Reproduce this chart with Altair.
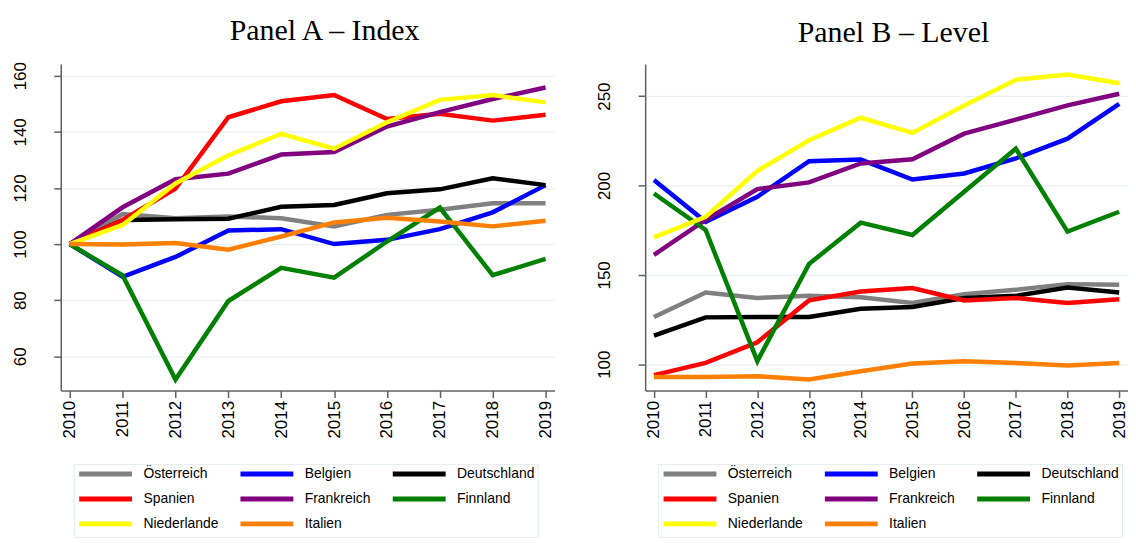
import altair as alt
import pandas as pd

years = [2010, 2011, 2012, 2013, 2014, 2015, 2016, 2017, 2018, 2019]
countries = ["Österreich", "Belgien", "Deutschland", "Spanien", "Frankreich",
             "Finnland", "Niederlande", "Italien"]
colors = ["#808080", "#0000ff", "#000000", "#ff0000", "#800080",
          "#008000", "#ffff00", "#ff8000"]

# Panel A – Index (2010 = 100)
idx_at = [100, 110.7, 109.2, 109.8, 109.2, 106.3, 110.4, 112.2, 114.5, 114.5]
idx_be = [100, 88.3, 95.4, 104.8, 105.3, 100.0, 101.5, 105.3, 111.3, 121.0]
idx_de = [100, 108.6, 108.8, 109.0, 113.3, 113.9, 118.1, 119.5, 123.4, 121.0]
idx_es = [100, 108.6, 119.8, 145.2, 150.9, 153.1, 144.6, 146.4, 144.0, 146.1]
idx_fr = [100, 113.1, 123.1, 125.1, 131.9, 132.8, 141.9, 147.0, 151.7, 155.8]
idx_fi = [100, 88.8, 51.7, 79.7, 91.5, 88.0, 100.9, 113.0, 88.9, 94.7]
idx_nl = [100, 106.8, 121.6, 131.6, 139.3, 134.0, 143.4, 151.4, 153.1, 150.5]
idx_it = [100, 99.8, 100.4, 98.0, 102.7, 107.7, 109.4, 108.0, 106.3, 108.3]

# Panel B – Level
lvl_at = [126.4, 140.1, 137.0, 138.3, 137.5, 134.2, 139.2, 141.6, 144.8, 144.4]
lvl_be = [203.0, 179.7, 193.7, 213.6, 214.5, 203.3, 206.7, 215.1, 226.2, 245.7]
lvl_de = [116.0, 126.2, 126.4, 126.4, 131.0, 132.0, 137.0, 138.3, 142.9, 140.1]
lvl_es = [93.9, 100.7, 112.3, 135.7, 140.7, 142.6, 135.7, 137.0, 134.2, 136.4]
lvl_fr = [161.2, 180.7, 198.0, 201.7, 212.3, 214.7, 229.0, 236.8, 244.8, 251.3]
lvl_fi = [195.5, 175.1, 101.7, 156.1, 179.2, 172.3, 196.5, 220.6, 174.2, 185.3]
lvl_nl = [171.0, 182.5, 208.2, 225.3, 237.9, 229.4, 244.8, 259.1, 262.1, 257.2]
lvl_it = [92.9, 92.9, 93.3, 91.4, 96.1, 100.4, 101.7, 100.7, 99.3, 100.7]

idx_series = [idx_at, idx_be, idx_de, idx_es, idx_fr, idx_fi, idx_nl, idx_it]
lvl_series = [lvl_at, lvl_be, lvl_de, lvl_es, lvl_fr, lvl_fi, lvl_nl, lvl_it]

# legend fills column by column: reorder so it reads row by row (3 columns)
legend_order = [0, 3, 6, 1, 4, 7, 2, 5]
dom = [countries[i] for i in legend_order]
rng = [colors[i] for i in legend_order]


def frame(series):
    rows = []
    for c, vals in zip(countries, series):
        for y, v in zip(years, vals):
            rows.append({"Jahr": y, "Land": c, "Wert": v})
    return pd.DataFrame(rows)


def panel(df, title, ydomain, yticks, width, dx):
    return alt.Chart(df, title=alt.Title(
        title, font="Liberation Serif", fontSize=30, fontWeight="normal",
        color="black", anchor="middle", frame="group", dx=dx, offset=16)
    ).mark_line(strokeWidth=4.5, strokeJoin="miter", clip=True).encode(
        x=alt.X("Jahr:Q", scale=alt.Scale(domain=[2009.83, 2019.17], nice=False, zero=False),
                axis=alt.Axis(values=years, format="d", labelAngle=-90, grid=False,
                              title=None, labelPadding=3)),
        y=alt.Y("Wert:Q", scale=alt.Scale(domain=ydomain, nice=False, zero=False),
                axis=alt.Axis(values=yticks, labelAngle=-90, labelAlign="center",
                              labelBaseline="bottom", labelPadding=24.5, title=None)),
        color=alt.Color("Land:N", sort=dom,
                        scale=alt.Scale(domain=dom, range=rng),
                        legend=alt.Legend(orient="none", legendX=13, legendY=402,
                                          columns=3, title=None, gridAlign="each",
                                          symbolType="M-1,0H10.8", symbolSize=81,
                                          symbolStrokeWidth=5,
                                          labelOffset=53, labelFontSize=14,
                                          labelFont="Liberation Sans",
                                          labelColor="black",
                                          fillColor="white", strokeColor="#e3ebee",
                                          padding=3, rowPadding=5, columnPadding=11)),
        detail="Land:N",
    ).properties(width=width, height=328)


a = panel(frame(idx_series), "Panel A – Index", [47.8, 164.2],
          [60, 80, 100, 120, 140, 160], 496, 17)
b = panel(frame(lvl_series), "Panel B – Level", [85.3, 268],
          [100, 150, 200, 250], 485, 7)

chart = alt.hconcat(a, b, spacing=41).resolve_scale(color="independent").configure(
    padding={"left": 3, "top": 6, "right": 0, "bottom": 0},
    background="white",
).configure_view(stroke=None).configure_axis(
    labelFont="Liberation Sans", labelFontSize=17, labelColor="black",
    domainColor="#606060", domainWidth=1.5, tickColor="#606060", tickWidth=1.5,
    tickSize=7, gridColor="#e8f0f2", gridWidth=1.3,
)

chart.save("out.html", embed_options={"renderer": "svg", "actions": False})
